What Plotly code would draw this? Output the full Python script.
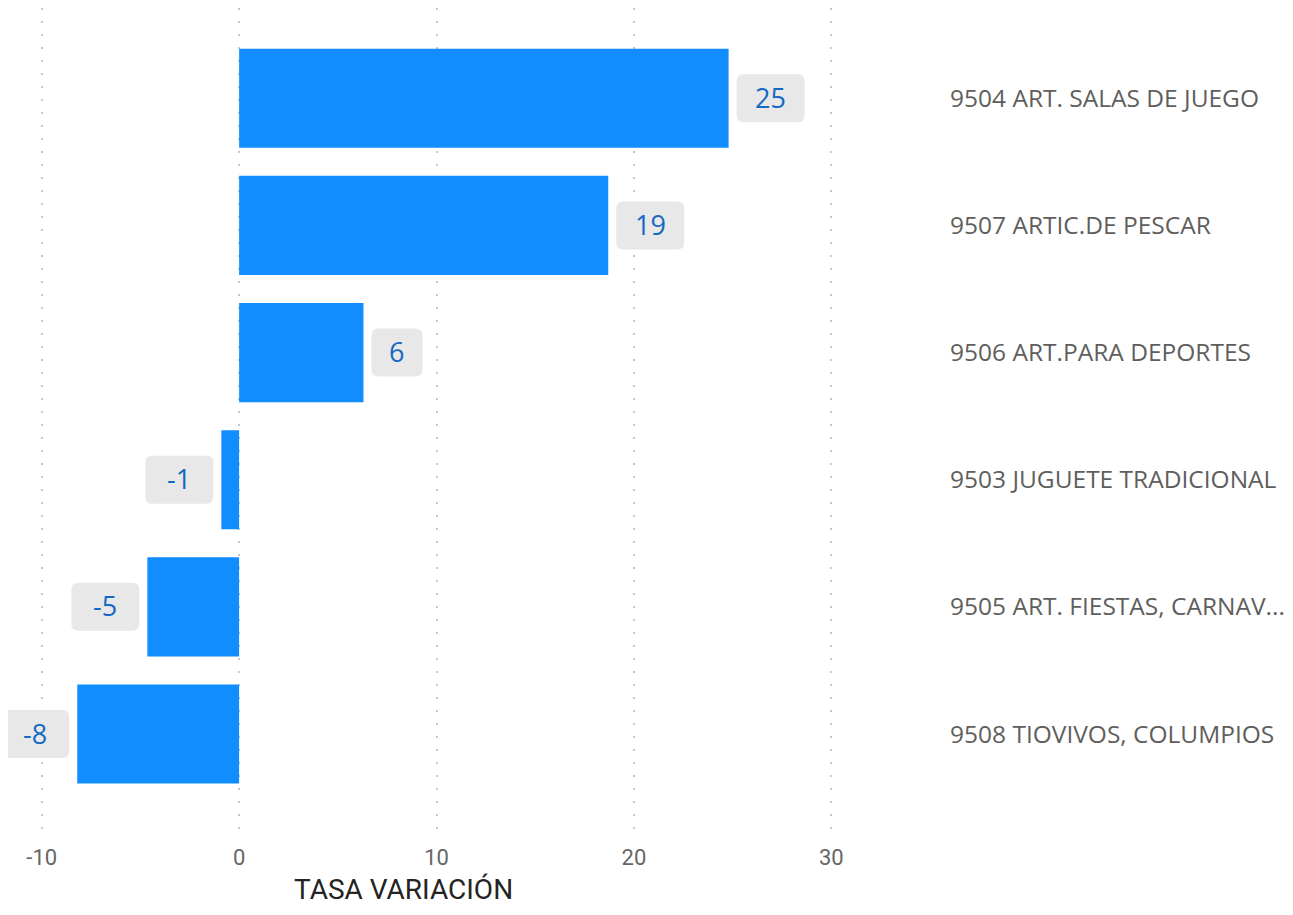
import plotly.graph_objects as go

categories = ["9504 ART. SALAS DE JUEGO", "9507 ARTIC.DE PESCAR", "9506 ART.PARA DEPORTES",
              "9503 JUGUETE TRADICIONAL", "9505 ART. FIESTAS, CARNAV...", "9508 TIOVIVOS, COLUMPIOS"]
values = [24.8, 18.7, 6.3, -0.9, -4.65, -8.2]
labels = ["25", "19", "6", "-1", "-5", "-8"]
x_ticks = [-10, 0, 10, 20, 30]
x_title = "TASA VARIACIÓN"

BAR = "#118DFF"

# figure sits 8px inside the page (body margin)
W, H = 1277, 899
ml, mt = 14, 0
pr, pb = 847, 822          # plot right / bottom in figure pixels
mr, mb = W - pr, H - pb
XMIN, XMAX = -11, 31

fig = go.Figure(go.Bar(
    y=list(range(len(categories))), x=values, orientation="h",
    marker=dict(color=BAR, line=dict(width=0)),
    width=0.78, hoverinfo="skip",
))

GAP, BH, R = 8, 24, 7
for i, (v, lab) in enumerate(zip(values, labels)):
    pos = v >= 0
    bw = 34 + 17 * len(lab)
    x0, x1 = (GAP, GAP + bw) if pos else (-GAP - bw, -GAP)
    path = (f"M {x0+R},{-BH} L {x1-R},{-BH} Q {x1},{-BH} {x1},{-BH+R} "
            f"L {x1},{BH-R} Q {x1},{BH} {x1-R},{BH} L {x0+R},{BH} "
            f"Q {x0},{BH} {x0},{BH-R} L {x0},{-BH+R} Q {x0},{-BH} {x0+R},{-BH} Z")
    # anchor in paper x so the box is not clipped by the plot area
    fig.add_shape(type="path", path=path, xref="paper", yref="y",
                  xsizemode="pixel", ysizemode="pixel",
                  xanchor=(v - XMIN) / (XMAX - XMIN), yanchor=i,
                  fillcolor="#E8E8E8", line=dict(width=0), layer="above")
    fig.add_annotation(
        x=(v - XMIN) / (XMAX - XMIN), y=i, xref="paper", yref="y",
        text=lab, showarrow=False,
        xanchor="center", xshift=(x0 + x1) / 2, yshift=1,
        font=dict(family="Open Sans", size=27, color="#1568C4"),
    )

title_cx, title_cy = 405 - 8, 881
fig.add_annotation(
    text=x_title, xref="paper", yref="paper",
    x=(title_cx - ml) / (pr - ml), y=(pb - title_cy) / (pb - mt),
    xanchor="center", yanchor="middle", showarrow=False,
    font=dict(family="Roboto", size=28, color="#252423"),
)

n = len(categories)
fig.update_layout(
    width=W, height=H,
    margin=dict(l=ml, r=mr, t=mt, b=mb, pad=0),
    plot_bgcolor="white", paper_bgcolor="white",
    showlegend=False,
    xaxis=dict(
        range=[XMIN, XMAX], tickvals=x_ticks, ticktext=[str(t) for t in x_ticks],
        showgrid=True, gridcolor="#C8C8C8", gridwidth=2, griddash="2px,11px",
        zeroline=False, showline=False, ticks="",
        tickfont=dict(family="Roboto", size=22, color="#666666"),
        ticklabelstandoff=12,
    ),
    yaxis=dict(
        range=[n - 1 + 0.755, -0.71],
        tickvals=list(range(n)), ticktext=categories,
        side="right", showgrid=False, zeroline=False, showline=False, ticks="",
        tickfont=dict(family="Open Sans", size=24.5, color="#605E5C"),
        ticklabelstandoff=98,
    ),
)

fig.write_html("out.html")
